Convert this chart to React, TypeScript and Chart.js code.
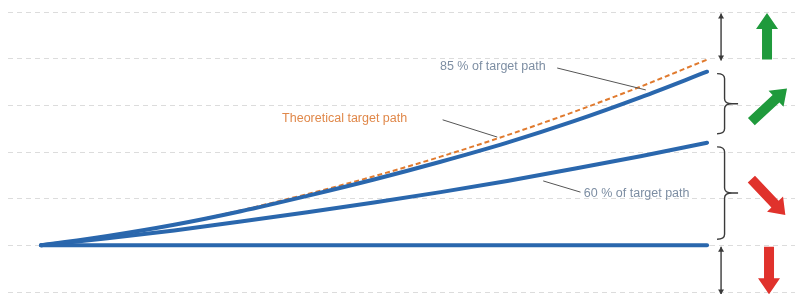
import React, { useEffect, useRef } from "react";
import { Chart, registerables } from "chart.js";
Chart.register(...registerables);

const years = [0, 2, 4, 6, 8, 10, 12, 14, 16, 18, 20];
const theoretical = [0, 0.2, 0.44, 0.75, 1.1, 1.48, 1.9, 2.36, 2.86, 3.4, 3.98];
const path85 = [0, 0.2, 0.44, 0.73, 1.06, 1.41, 1.79, 2.2, 2.66, 3.17, 3.72];
const path60 = [0, 0.15, 0.32, 0.51, 0.71, 0.92, 1.14, 1.38, 1.64, 1.91, 2.2];
const flat = [0, 0, 0, 0, 0, 0, 0, 0, 0, 0, 0];
const labels = ["85 % of target path", "Theoretical target path", "60 % of target path"];

const BLUE = "#2a67ad";
const ORANGE = "#e07a2e";
const GREEN = "#1f9a3c";
const RED = "#e0322c";
const DARK = "#3a3a3a";

function blockArrow(ctx: CanvasRenderingContext2D, x0: number, y0: number, x1: number, y1: number, shaftW: number, headW: number, headL: number, color: string) {
  const dx = x1 - x0, dy = y1 - y0;
  const len = Math.hypot(dx, dy);
  const ux = dx / len, uy = dy / len;
  const nx = -uy, ny = ux;
  const bx = x1 - ux * headL, by = y1 - uy * headL;
  ctx.save();
  ctx.fillStyle = color;
  ctx.beginPath();
  ctx.moveTo(x0 + nx * shaftW / 2, y0 + ny * shaftW / 2);
  ctx.lineTo(bx + nx * shaftW / 2, by + ny * shaftW / 2);
  ctx.lineTo(bx + nx * headW / 2, by + ny * headW / 2);
  ctx.lineTo(x1, y1);
  ctx.lineTo(bx - nx * headW / 2, by - ny * headW / 2);
  ctx.lineTo(bx - nx * shaftW / 2, by - ny * shaftW / 2);
  ctx.lineTo(x0 - nx * shaftW / 2, y0 - ny * shaftW / 2);
  ctx.closePath();
  ctx.fill();
  ctx.restore();
}

function brace(ctx: CanvasRenderingContext2D, x: number, y1: number, y2: number, w: number) {
  const mid = (y1 + y2) / 2;
  const r = 5;
  const xm = x + w / 2;
  ctx.save();
  ctx.strokeStyle = DARK;
  ctx.lineWidth = 1.4;
  ctx.beginPath();
  ctx.moveTo(x, y1);
  ctx.quadraticCurveTo(xm, y1, xm, y1 + r);
  ctx.lineTo(xm, mid - r);
  ctx.quadraticCurveTo(xm, mid, x + w, mid);
  ctx.quadraticCurveTo(xm, mid, xm, mid + r);
  ctx.lineTo(xm, y2 - r);
  ctx.quadraticCurveTo(xm, y2, x, y2);
  ctx.moveTo(x + w, mid);
  ctx.lineTo(x + w + 6, mid);
  ctx.stroke();
  ctx.restore();
}

function vArrowLine(ctx: CanvasRenderingContext2D, x: number, y1: number, y2: number) {
  ctx.save();
  ctx.strokeStyle = DARK;
  ctx.fillStyle = DARK;
  ctx.lineWidth = 1.4;
  ctx.beginPath();
  ctx.moveTo(x, y1);
  ctx.lineTo(x, y2);
  ctx.stroke();
  [[y1, 1], [y2, -1]].forEach(([y, d]) => {
    ctx.beginPath();
    ctx.moveTo(x, y);
    ctx.lineTo(x - 3, y + d * 5);
    ctx.lineTo(x + 3, y + d * 5);
    ctx.closePath();
    ctx.fill();
  });
  ctx.restore();
}

const annotations = {
  id: "annotations",
  afterDatasetsDraw(chart: any) {
    const ctx: CanvasRenderingContext2D = chart.ctx;
    const X = (v: number) => chart.scales.x.getPixelForValue(v);
    const Y = (v: number) => chart.scales.y.getPixelForValue(v);

    ctx.save();
    ctx.font = "12.5px 'Liberation Sans', Arial, sans-serif";
    ctx.textBaseline = "middle";
    ctx.textAlign = "left";
    ctx.fillStyle = "#7d8ea3";
    ctx.fillText(labels[0], X(11.98), Y(3.83));
    ctx.fillStyle = "#e0884a";
    ctx.fillText(labels[1], X(7.24), Y(2.71));
    ctx.fillStyle = "#7d8ea3";
    ctx.fillText(labels[2], X(16.3), Y(1.1));

    ctx.strokeStyle = "#555";
    ctx.lineWidth = 1;
    ctx.beginPath();
    ctx.moveTo(X(15.5), Y(3.8));
    ctx.lineTo(X(18.16), Y(3.33));
    ctx.moveTo(X(12.06), Y(2.69));
    ctx.lineTo(X(13.7), Y(2.32));
    ctx.moveTo(X(16.2), Y(1.14));
    ctx.lineTo(X(15.08), Y(1.38));
    ctx.stroke();
    ctx.restore();

    const bx = X(20.39);
    vArrowLine(ctx, bx + 1, Y(4.97), Y(3.96));
    brace(ctx, bx - 3, Y(3.68), Y(2.39), 15);
    brace(ctx, bx - 3, Y(2.11), Y(0.13), 15);
    vArrowLine(ctx, bx + 1, Y(-0.03), Y(-1.03) + 1);

    blockArrow(ctx, X(21.8), Y(3.98), X(21.8), Y(4.98), 10, 22, 16, GREEN);
    blockArrow(ctx, X(21.33), Y(2.65), X(22.4), Y(3.36), 10, 22, 15, GREEN);
    blockArrow(ctx, X(21.33), Y(1.42), X(22.35), Y(0.65), 10, 22, 15, RED);
    blockArrow(ctx, X(21.86), Y(-0.03), X(21.86), Y(-1.05), 10, 22, 16, RED);
  },
};

export default function App() {
  const ref = useRef<HTMLCanvasElement>(null);
  useEffect(() => {
    document.body.style.margin = "0";
    const pts = (arr: number[]) => arr.map((v, i) => ({ x: years[i], y: v }));
    const chart = new Chart(ref.current!, {
      type: "line",
      data: {
        datasets: [
          { data: pts(flat), borderColor: BLUE, borderWidth: 4, pointRadius: 0, order: 1, borderCapStyle: "round" },
          { data: pts(path60), borderColor: BLUE, borderWidth: 4, pointRadius: 0, cubicInterpolationMode: "monotone", order: 1, borderCapStyle: "round" },
          { data: pts(path85), borderColor: BLUE, borderWidth: 4, pointRadius: 0, cubicInterpolationMode: "monotone", order: 1, borderCapStyle: "round" },
          { data: pts(theoretical), borderColor: ORANGE, borderWidth: 2, borderDash: [5, 3], pointRadius: 0, cubicInterpolationMode: "monotone", order: 3 },
        ],
      },
      options: {
        animation: false,
        responsive: true,
        maintainAspectRatio: false,
        layout: { padding: { left: 8, right: 0, top: 12, bottom: 2 } },
        plugins: { legend: { display: false }, tooltip: { enabled: false } },
        scales: {
          x: {
            type: "linear",
            min: -0.99,
            max: 22.64,
            display: true,
            grid: { display: false, drawTicks: false },
            border: { display: false },
            ticks: { display: false },
          },
          y: {
            type: "linear",
            min: -1,
            max: 5,
            grid: { color: "#dcdcdc", lineWidth: 1, drawTicks: false },
            border: { display: false, dash: [5, 4] },
            ticks: { display: false, stepSize: 1 },
          },
        },
      },
      plugins: [annotations],
    });
    return () => chart.destroy();
  }, []);
  return (
    <div style={{ width: 795, height: 294, position: "relative" }}>
      <canvas ref={ref} />
    </div>
  );
}
